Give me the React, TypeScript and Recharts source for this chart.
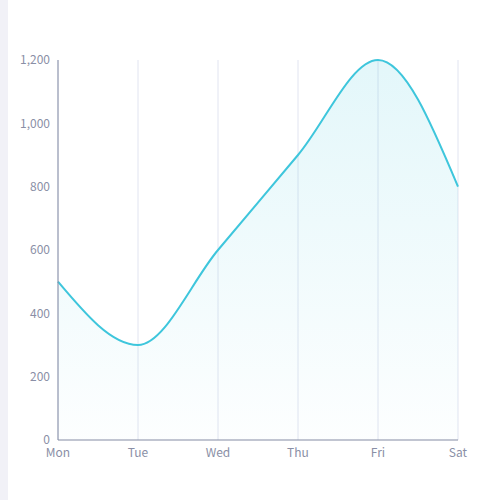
import React from "react";
import { AreaChart, Area, XAxis, YAxis, CartesianGrid } from "recharts";

const days = ["Mon", "Tue", "Wed", "Thu", "Fri", "Sat"];
const values = [500, 300, 600, 900, 1200, 800];
const yTicks = [0, 200, 400, 600, 800, 1000, 1200];

const data = days.map((d, i) => ({ day: d, value: values[i] }));

const tickStyle = { fill: "#8a8fa6", fontSize: 12, fontFamily: "'Noto Sans CJK SC', 'Noto Sans', sans-serif" };

export default function App() {
  return (
    <div style={{ position: "absolute", left: 0, top: 0, width: 500, height: 500, background: "#ffffff" }}>
      <div style={{ position: "absolute", left: 0, top: 0, width: 8, height: 500, background: "#f1f1f7" }} />
      <div style={{ position: "absolute", left: 0, top: 0 }}>
        <AreaChart width={500} height={500} data={data} margin={{ top: 60, right: 42, bottom: 30, left: 0 }}>
          <defs>
            <linearGradient id="fillGrad" x1="0" y1="0" x2="0" y2="1">
              <stop offset="0%" stopColor="#3ec6dc" stopOpacity={0.24} />
              <stop offset="100%" stopColor="#3ec6dc" stopOpacity={0.02} />
            </linearGradient>
          </defs>
          <CartesianGrid horizontal={false} vertical={true} stroke="#e1e4f0" />
          <XAxis
            dataKey="day"
            height={30}
            tickLine={false}
            axisLine={{ stroke: "#848ca4", strokeWidth: 1 }}
            tick={tickStyle}
            interval={0}
          />
          <YAxis
            width={58}
            domain={[0, 1200]}
            ticks={yTicks}
            tickLine={false}
            axisLine={{ stroke: "#848ca4", strokeWidth: 1 }}
            tick={tickStyle}
            tickFormatter={(v: number) => v.toLocaleString("en-US")}
          />
          <Area
            type="monotone"
            dataKey="value"
            stroke="#3ec6dc"
            strokeWidth={2}
            fill="url(#fillGrad)"
            dot={false}
            activeDot={false}
            isAnimationActive={false}
          />
        </AreaChart>
      </div>
    </div>
  );
}
